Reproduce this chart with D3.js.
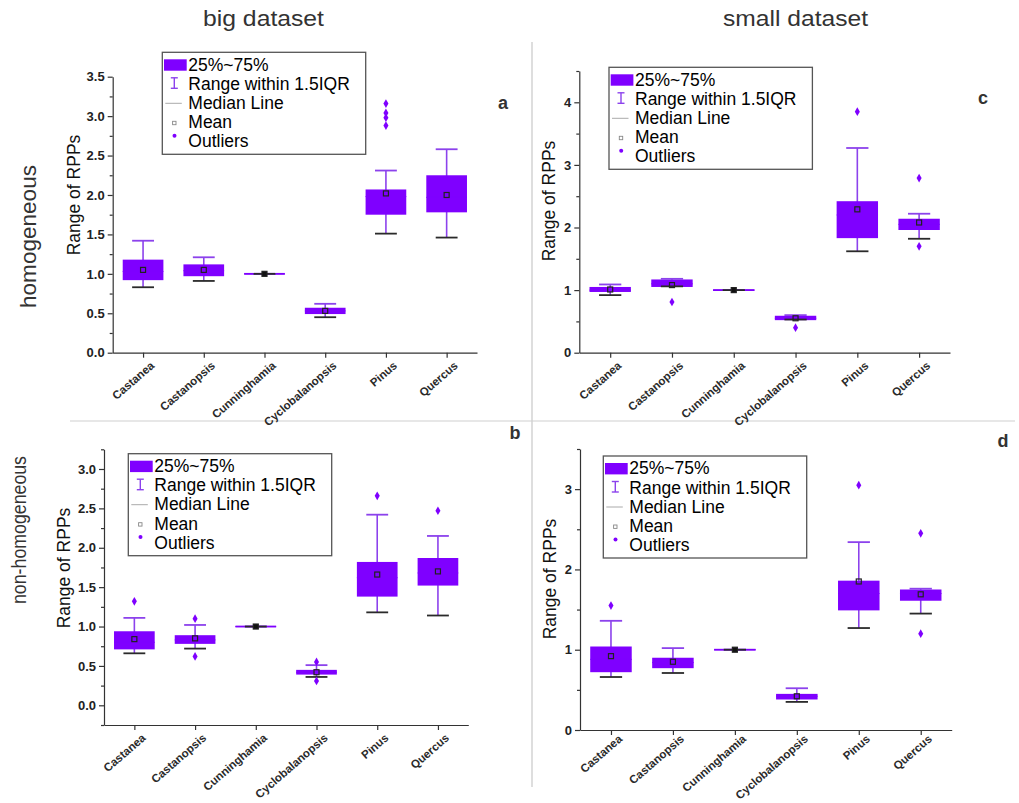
<!DOCTYPE html>
<html><head><meta charset="utf-8">
<script src="https://cdn.jsdelivr.net/npm/d3@7"></script>
<style>
body{margin:0;background:#fff;}
svg{display:block;font-family:"Liberation Sans",Arial,sans-serif;}
</style></head>
<body>
<svg id="chart" width="1019" height="803"></svg>
<script>
// ---------- DATA ----------
const categories = ["Castanea","Castanopsis","Cunninghamia","Cyclobalanopsis","Pinus","Quercus"];

// panel a: big dataset, homogeneous
const aQ1   = [0.92, 0.97, 1.00, 0.49, 1.75, 1.78];
const aQ3   = [1.18, 1.12, 1.00, 0.57, 2.07, 2.25];
const aMed  = [1.03, 1.04, 1.00, 0.53, 1.98, 1.97];
const aMean = [1.05, 1.05, 1.00, 0.53, 2.02, 2.00];
const aLo   = [0.83, 0.91, 1.00, 0.45, 1.51, 1.46];
const aHi   = [1.42, 1.21, 1.00, 0.62, 2.31, 2.58];
const aOut  = [[], [], [], [], [2.88, 2.98, 3.04, 3.16], []];

// panel b: big dataset, non-homogeneous
const bQ1   = [0.71, 0.78, 1.00, 0.39, 1.38, 1.52];
const bQ3   = [0.94, 0.89, 1.00, 0.45, 1.82, 1.87];
const bMed  = [0.80, 0.83, 1.00, 0.42, 1.62, 1.68];
const bMean = [0.84, 0.85, 1.00, 0.42, 1.66, 1.70];
const bLo   = [0.66, 0.72, 1.00, 0.36, 1.18, 1.14];
const bHi   = [1.11, 1.02, 1.00, 0.51, 2.42, 2.15];
const bOut  = [[1.32], [1.10, 0.62], [], [0.55, 0.31], [2.66], [2.47]];

// panel c: small dataset, homogeneous
const cQ1   = [0.97, 1.05, 1.00, 0.52, 1.83, 1.96];
const cQ3   = [1.05, 1.17, 1.00, 0.59, 2.42, 2.14];
const cMed  = [1.00, 1.10, 1.00, 0.55, 2.20, 2.05];
const cMean = [1.01, 1.08, 1.00, 0.55, 2.29, 2.08];
const cLo   = [0.92, 1.06, 1.00, 0.53, 1.62, 1.82];
const cHi   = [1.09, 1.18, 1.00, 0.60, 3.27, 2.22];
const cOut  = [[], [0.81], [], [0.40], [3.85], [2.79, 1.70]];

// panel d: small dataset, non-homogeneous
const dQ1   = [0.72, 0.77, 1.00, 0.38, 1.49, 1.61];
const dQ3   = [1.04, 0.90, 1.00, 0.45, 1.86, 1.75];
const dMed  = [0.88, 0.84, 1.00, 0.42, 1.70, 1.70];
const dMean = [0.92, 0.85, 1.00, 0.42, 1.85, 1.69];
const dLo   = [0.66, 0.71, 1.00, 0.35, 1.27, 1.45];
const dHi   = [1.36, 1.02, 1.00, 0.52, 2.34, 1.76];
const dOut  = [[1.55], [], [], [], [3.05], [2.45, 1.20]];

// tick values
const aTicks = [0, 0.5, 1.0, 1.5, 2.0, 2.5, 3.0, 3.5];
const aMinor = [0.25, 0.75, 1.25, 1.75, 2.25, 2.75, 3.25];
const bTicks = [0, 0.5, 1.0, 1.5, 2.0, 2.5, 3.0];
const bMinor = [-0.25, 0.25, 0.75, 1.25, 1.75, 2.25, 2.75, 3.25];
const cTicks = [0, 1, 2, 3, 4];
const cMinor = [0.5, 1.5, 2.5, 3.5, 4.5];
const dTicks = [0, 1, 2, 3];
const dMinor = [0.5, 1.5, 2.5, 3.5];

const legendLabels = ["25%~75%", "Range within 1.5IQR", "Median Line", "Mean", "Outliers"];
const colTitles = ["big dataset", "small dataset"];
const rowTitles = ["homogeneous", "non-homogeneous"];
const yLabel = "Range of RPPs";

// ---------- STYLE ----------
const BOX = "#7f00ff";
const WHISK = "#8c42ec";
const DARK = "#2a2a2a";
const svg = d3.select("#chart");

// dividers
svg.append("line").attr("x1", 532).attr("x2", 532).attr("y1", 42).attr("y2", 787)
  .attr("stroke", "#c8c8c8").attr("stroke-width", 1.2);
svg.append("line").attr("x1", 70).attr("x2", 1015).attr("y1", 421).attr("y2", 421)
  .attr("stroke", "#d0d0d0").attr("stroke-width", 1.2);

// titles
svg.append("text").attr("x", 203).attr("y", 26).attr("font-size", 22)
  .attr("textLength", 121).attr("lengthAdjust", "spacingAndGlyphs")
  .attr("fill", "#333").text(colTitles[0]);
svg.append("text").attr("x", 723).attr("y", 26).attr("font-size", 22)
  .attr("textLength", 145).attr("lengthAdjust", "spacingAndGlyphs")
  .attr("fill", "#333").text(colTitles[1]);
svg.append("text").attr("transform", "translate(35.5,236.5) rotate(-90)")
  .attr("text-anchor", "middle").attr("font-size", 22)
  .attr("textLength", 143).attr("lengthAdjust", "spacingAndGlyphs")
  .attr("fill", "#333").text(rowTitles[0]);
svg.append("text").attr("transform", "translate(26,530) rotate(-90)")
  .attr("text-anchor", "middle").attr("font-size", 21)
  .attr("textLength", 148).attr("lengthAdjust", "spacingAndGlyphs")
  .attr("fill", "#333").text(rowTitles[1]);

const panels = [
  {label:"a", q1:aQ1, q3:aQ3, med:aMed, mean:aMean, lo:aLo, hi:aHi, out:aOut, ticks:aTicks, minor:aMinor, fmt:d3.format(".1f"),
   x0:112.7, x1:477, y0:352.7, y1:76.7, dom:[0,3.5], lx:162.3, ly:52.3, tx:503, ty:109, ylx:79.6, yly:195, lo2:14},
  {label:"b", q1:bQ1, q3:bQ3, med:bMed, mean:bMean, lo:bLo, hi:bHi, out:bOut, ticks:bTicks, minor:bMinor, fmt:d3.format(".1f"),
   x0:104, x1:468.3, y0:725, y1:449.3, dom:[-0.25,3.25], lx:128.3, ly:453.7, tx:515, ty:439, ylx:70.3, yly:568, lo2:14},
  {label:"c", q1:cQ1, q3:cQ3, med:cMed, mean:cMean, lo:cLo, hi:cHi, out:cOut, ticks:cTicks, minor:cMinor, fmt:d3.format("d"),
   x0:579.3, x1:950, y0:352.7, y1:71, dom:[0,4.5], lx:609, ly:67.3, tx:983, ty:104, ylx:554.6, yly:201, lo2:14},
  {label:"d", q1:dQ1, q3:dQ3, med:dMed, mean:dMean, lo:dLo, hi:dHi, out:dOut, ticks:dTicks, minor:dMinor, fmt:d3.format("d"),
   x0:580, x1:951.7, y0:730, y1:449, dom:[0,3.5], lx:603.3, ly:456, tx:1003, ty:447, ylx:556.3, yly:579, lo2:10}
];

function drawPanel(p){
  const g = svg.append("g");
  const x = d3.scalePoint().domain(categories).range([p.x0, p.x1]).padding(0.5);
  const y = d3.scaleLinear().domain(p.dom).range([p.y0, p.y1]);
  const step = x.step();
  const bw = step * 0.67, cw = step * 0.36;

  // axes
  const ya = g.append("g").attr("transform", `translate(${p.x0},0)`)
    .call(d3.axisLeft(y).tickValues(p.ticks).tickFormat(p.fmt).tickSize(5).tickSizeOuter(0).tickPadding(3));
  g.append("g").attr("transform", `translate(${p.x0},0)`)
    .call(d3.axisLeft(y).tickValues(p.minor).tickFormat("").tickSize(3).tickSizeOuter(0))
    .select(".domain").remove();
  g.append("g").attr("transform", `translate(0,${p.y0})`)
    .call(d3.axisBottom(x).tickFormat("").tickSize(5).tickSizeOuter(0));
  g.selectAll(".domain, .tick line").attr("stroke", "#333").attr("stroke-width", 1.2);
  ya.selectAll("text").attr("font-size", 13).attr("font-weight", "bold")
    .attr("fill", "#222").attr("font-family", '"Liberation Sans",Arial,sans-serif');

  // x tick labels rotated
  g.selectAll("text.xl").data(categories).join("text").attr("class", "xl")
    .attr("transform", d => `translate(${x(d) + 12},${p.y0 + p.lo2}) rotate(-41)`)
    .attr("text-anchor", "end").attr("font-size", 11.5).attr("font-weight", "bold").attr("fill", "#2a2a2a")
    .text(d => d);

  // y label
  g.append("text").attr("transform", `translate(${p.ylx},${p.yly}) rotate(-90)`)
    .attr("text-anchor", "middle").attr("font-size", 17.5).attr("fill", "#111").text(yLabel);

  // panel letter
  g.append("text").attr("x", p.tx).attr("y", p.ty).attr("text-anchor", "middle")
    .attr("font-size", 18).attr("font-weight", "bold").attr("fill", "#333").text(p.label);

  // boxes
  categories.forEach((c, i) => {
    const cx = x(c);
    g.append("line").attr("x1", cx).attr("x2", cx).attr("y1", y(p.lo[i])).attr("y2", y(p.hi[i]))
      .attr("stroke", WHISK).attr("stroke-width", 1.6);
    const top = y(p.q3[i]), bot = y(p.q1[i]);
    const h = Math.max(bot - top, 1.8);
    g.append("rect").attr("x", cx - bw / 2).attr("y", (top + bot) / 2 - h / 2)
      .attr("width", bw).attr("height", h).attr("fill", BOX);
    g.append("line").attr("x1", cx - bw / 2).attr("x2", cx + bw / 2)
      .attr("y1", y(p.med[i])).attr("y2", y(p.med[i])).attr("stroke", BOX).attr("stroke-width", 1);
    g.append("line").attr("x1", cx - cw / 2).attr("x2", cx + cw / 2)
      .attr("y1", y(p.hi[i])).attr("y2", y(p.hi[i])).attr("stroke", WHISK).attr("stroke-width", 1.8);
    g.append("line").attr("x1", cx - cw / 2).attr("x2", cx + cw / 2)
      .attr("y1", y(p.lo[i])).attr("y2", y(p.lo[i])).attr("stroke", DARK).attr("stroke-width", 1.8);
    g.append("rect").attr("x", cx - 2.5).attr("y", y(p.mean[i]) - 2.5).attr("width", 5).attr("height", 5)
      .attr("fill", c === "Cunninghamia" ? "#111" : "none").attr("stroke", "#222").attr("stroke-width", 1.2);
    p.out[i].forEach(v => {
      g.append("path").attr("d", d3.symbol(d3.symbolDiamond, 22)())
        .attr("transform", `translate(${cx},${y(v)})`).attr("fill", BOX);
    });
  });

  // legend
  const L = g.append("g").attr("transform", `translate(${p.lx},${p.ly})`);
  L.append("rect").attr("width", 203.4).attr("height", 102).attr("fill", "#fff")
    .attr("stroke", "#555").attr("stroke-width", 1.3);
  L.append("rect").attr("x", 1.7).attr("y", 7).attr("width", 22.7).attr("height", 11.4).attr("fill", BOX);
  L.append("line").attr("x1", 12).attr("x2", 12).attr("y1", 25.5).attr("y2", 36).attr("stroke", WHISK).attr("stroke-width", 1.4);
  L.append("line").attr("x1", 8.5).attr("x2", 15.5).attr("y1", 25.5).attr("y2", 25.5).attr("stroke", WHISK).attr("stroke-width", 1.4);
  L.append("line").attr("x1", 8.5).attr("x2", 15.5).attr("y1", 36).attr("y2", 36).attr("stroke", WHISK).attr("stroke-width", 1.4);
  L.append("line").attr("x1", 3).attr("x2", 19.5).attr("y1", 51).attr("y2", 51).attr("stroke", "#aaa").attr("stroke-width", 1);
  L.append("rect").attr("x", 10.3).attr("y", 69).attr("width", 3.4).attr("height", 3.4)
    .attr("fill", "none").attr("stroke", "#888").attr("stroke-width", 0.9);
  L.append("circle").attr("cx", 12.2).attr("cy", 83.4).attr("r", 2).attr("fill", BOX);
  L.selectAll("text.lg").data(legendLabels).join("text").attr("class", "lg")
    .attr("x", 26).attr("y", (d, k) => 18.4 + k * 19.2)
    .attr("font-size", 17.5).attr("fill", "#000").text(d => d);
}

panels.forEach(drawPanel);
</script>
</body></html>
